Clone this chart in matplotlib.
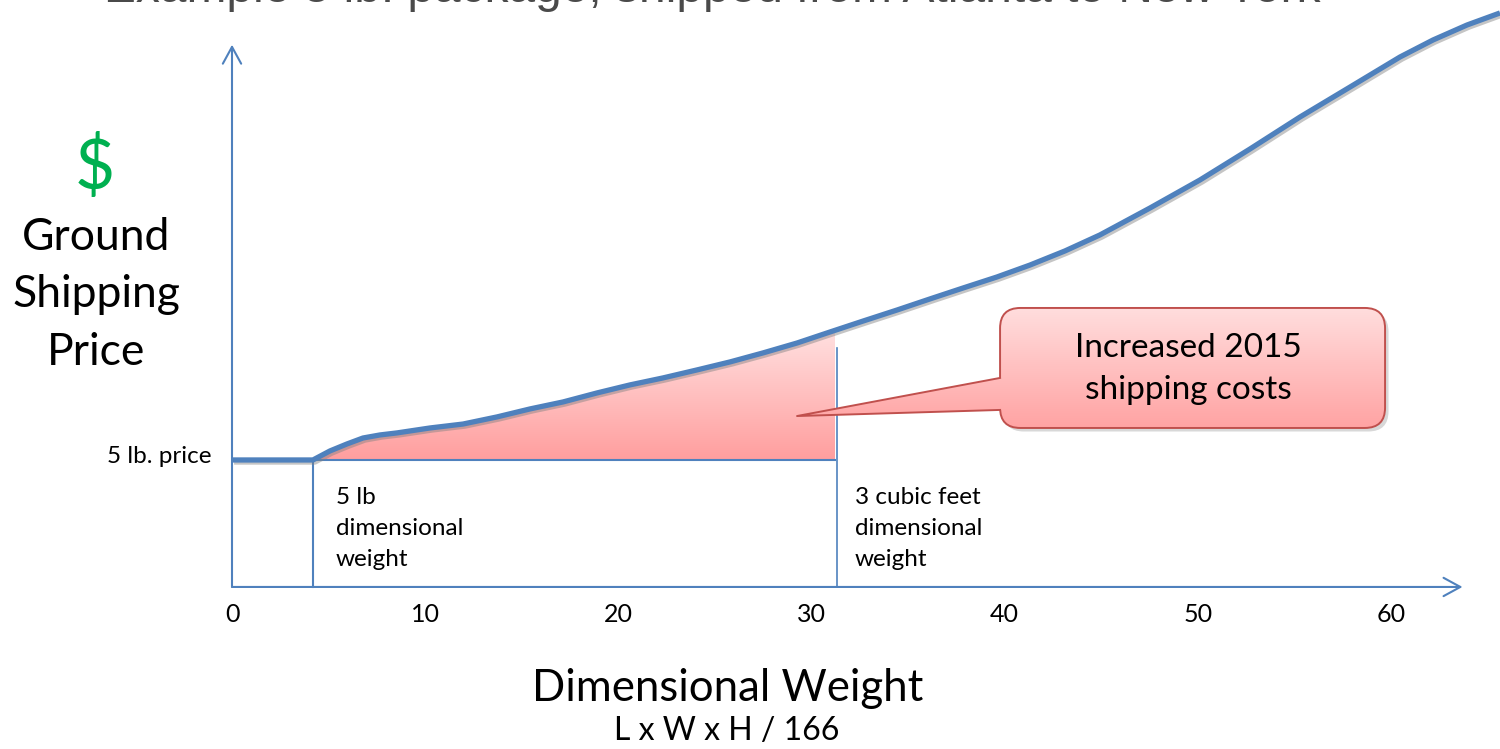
import numpy as np
import matplotlib.pyplot as plt
import matplotlib.patheffects as pe
from matplotlib.patches import FancyBboxPatch, Polygon
from matplotlib.colors import LinearSegmentedColormap

plt.rcParams['font.family'] = ['Lato', 'DejaVu Sans']

# price curve (price units: 10 = the 5 lb. price)
weight = [0, 4.19, 5.07, 5.95, 6.78, 7.66, 8.54, 10.25, 11.96, 13.72, 15.43, 17.14,
          18.90, 20.60, 22.31, 24.07, 25.78, 27.49, 29.25, 30.96, 32.67, 34.43, 36.13,
          37.84, 39.60, 41.31, 43.12, 44.93, 47.52, 50.11, 52.70, 55.29, 57.88, 60.46,
          62.17, 63.93, 65.64]
price = [10, 10, 10.71, 11.26, 11.73, 11.97, 12.13, 12.52, 12.83, 13.39, 14.02, 14.57,
         15.28, 15.91, 16.46, 17.09, 17.72, 18.43, 19.21, 20.08, 20.94, 21.81, 22.68,
         23.54, 24.41, 25.35, 26.46, 27.72, 29.84, 32.05, 34.49, 37.01, 39.37, 41.73,
         43.07, 44.25, 45.20]
five_lb_price = 10
dim_5lb = 4.19
dim_3cuft = 31.2
ticks = [0, 10, 20, 30, 40, 50, 60]

blue = '#4F81BD'
red = '#C0504D'

fig = plt.figure(figsize=(15, 7.49), dpi=100)
ax = fig.add_axes([0, 0, 1, 1])
ax.axis('off')

# axes with arrows
arrow = dict(arrowstyle='->,head_length=0.55,head_width=0.3', color=blue, lw=1.5,
             mutation_scale=22, shrinkA=0, shrinkB=0)
ax.annotate('', xy=(63.7, 0), xytext=(0, 0), arrowprops=arrow)
ax.annotate('', xy=(0, 42.7), xytext=(0, 0), arrowprops=arrow)

# marker lines
ax.plot([dim_5lb, dim_5lb], [0, five_lb_price], color=blue, lw=1.5)
ax.plot([dim_3cuft + 0.1, dim_3cuft + 0.1], [0, 18.8], color=blue, lw=1.2)

# pink area between old and new price
top = np.interp(dim_3cuft, weight, price)
area = ax.fill_between(weight, price, five_lb_price, color='none', lw=0)
fill_cmap = LinearSegmentedColormap.from_list('fill', ['#FF9E9E', '#FFE0E0'])
img = ax.imshow(np.linspace(0, 1, 256).reshape(-1, 1), cmap=fill_cmap, origin='lower',
                extent=[dim_5lb, dim_3cuft, five_lb_price, top], aspect='auto', zorder=2)
img.set_clip_path(area.get_paths()[0], ax.transData)
ax.plot([dim_5lb, dim_3cuft], [five_lb_price, five_lb_price], color=blue, lw=1.5, zorder=3)

# price curve
ax.plot(weight, price, color=blue, lw=3.8, solid_capstyle='butt', solid_joinstyle='round',
        zorder=4,
        path_effects=[pe.SimpleLineShadow(offset=(1.5, -1.5), shadow_color='gray', alpha=0.45),
                      pe.Normal()])

# tick labels
for t in ticks:
    ax.text(t, -2.2, str(t), ha='center', va='center', fontsize=18)

ax.text(-1.04, 9.76, '5 lb. price', ha='right', va='baseline', fontsize=17.5)
ax.text(5.38, 7.9, '5 lb\ndimensional\nweight', ha='left', va='top', fontsize=17.5,
        linespacing=1.6)
ax.text(32.25, 7.9, '3 cubic feet\ndimensional\nweight', ha='left', va='top', fontsize=17.5,
        linespacing=1.6)

ax.text(-7.09, 33.0, '$', ha='center', va='center', fontsize=50, color='#00B050')
ax.text(-7.04, 23.0, 'Ground\nShipping\nPrice', ha='center', va='center', fontsize=32,
        multialignment='center', linespacing=1.5)

ax.text(25.68, -9.0, 'Dimensional Weight', ha='center', va='baseline', fontsize=31.5)
ax.text(25.63, -12.05, 'L x W x H / 166', ha='center', va='baseline', fontsize=23)

ax.text(24.85, 46.05, 'Example 5 lb. package, shipped from Atlanta to New York',
        ha='center', va='baseline', fontsize=34.5, color='#4a4a4a', family='Liberation Sans')

# callout
bx, by, bw, bh = 39.76, 12.52, 19.93, 9.45
asp = 19.317 / 12.7
shadow = FancyBboxPatch((bx + 0.18, by - 0.28), bw, bh, boxstyle='round,pad=0,rounding_size=1.05',
                        mutation_aspect=asp, facecolor='gray', edgecolor='none', alpha=0.3, zorder=5)
ax.add_patch(shadow)
box = FancyBboxPatch((bx, by), bw, bh, boxstyle='round,pad=0,rounding_size=1.05',
                     mutation_aspect=asp, facecolor='none', edgecolor=red, lw=1.4, zorder=7)
ax.add_patch(box)
box_cmap = LinearSegmentedColormap.from_list('box', ['#FFA3A3', '#FFDEDE'])
bimg = ax.imshow(np.linspace(0, 1, 256).reshape(-1, 1), cmap=box_cmap, origin='lower',
                 extent=[bx, bx + bw, by, by + bh], aspect='auto', zorder=6)
bimg.set_clip_path(box)

tip = (29.25, 13.46)
ptr = Polygon([(bx + 0.4, 16.46), (bx, 16.46), tip, (bx, 13.94), (bx + 0.4, 13.94)],
              closed=True, facecolor='none', edgecolor='none', transform=ax.transData)
ax.add_patch(ptr)
pimg = ax.imshow(np.linspace(0, 1, 256).reshape(-1, 1), cmap=box_cmap, origin='lower',
                 extent=[tip[0], bx + bw, by, by + bh], aspect='auto', zorder=8)
pimg.set_clip_path(ptr)
ax.plot([bx, tip[0], bx], [16.46, tip[1], 13.94], color=red, lw=1.4, zorder=9)

ax.text(bx + bw / 2 - 0.2, 17.15, 'Increased 2015\nshipping costs', ha='center', va='center',
        fontsize=24, linespacing=1.5, zorder=10)

ax.set_xlim(-12.01, 65.64)
ax.set_ylim(-12.76, 46.22)

fig.savefig('out.png', dpi=100)
